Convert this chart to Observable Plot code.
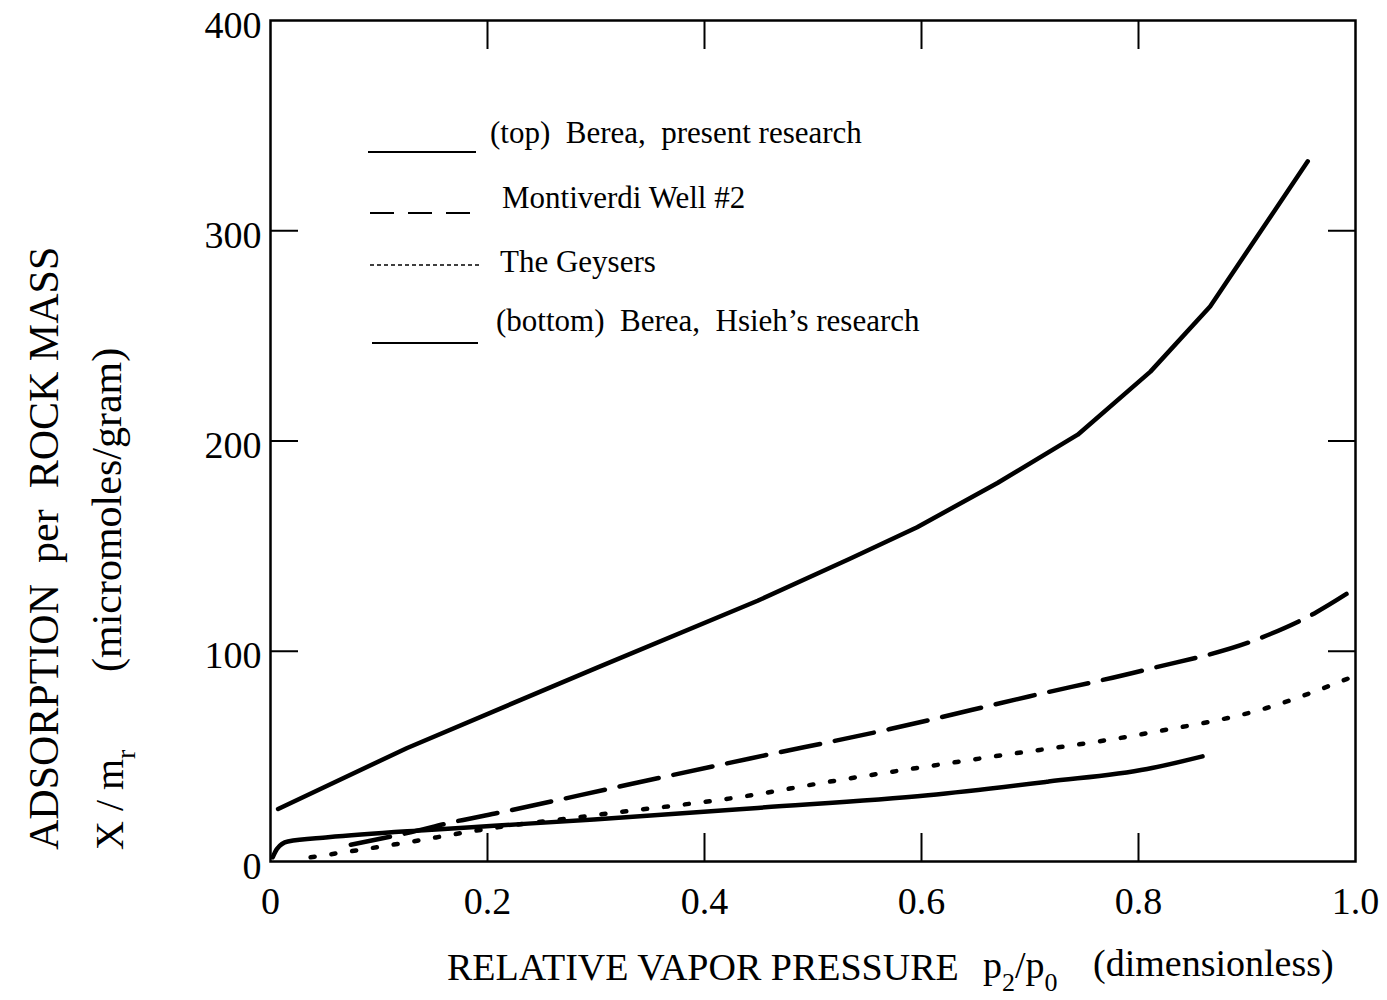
<!DOCTYPE html>
<html>
<head>
<meta charset="utf-8">
<script src="https://cdn.jsdelivr.net/npm/d3@7"></script>
<script src="https://cdn.jsdelivr.net/npm/@observablehq/plot@0.6"></script>
<style>
  html, body { margin: 0; padding: 0; background: #fff; }
  svg { display: block; }
</style>
</head>
<body>
<div id="chart"></div>
<script>
// Water vapour adsorption isotherms: adsorption per rock mass vs relative vapour pressure.

// Berea sandstone, present research (top curve)
const bereaPresentX = [0.007, 0.126, 0.300, 0.449, 0.534, 0.596, 0.670, 0.744, 0.811, 0.866, 0.956];
const bereaPresentY = [25, 54, 92, 124, 144, 159, 180, 203, 233, 264, 333];

// Montiverdi Well #2
const montiverdiX = [0.074, 0.130, 0.166, 0.218, 0.329, 0.442, 0.571, 0.699, 0.805, 0.911, 0.962, 0.994];
const montiverdiY = [8, 14, 18.5, 24, 36.5, 49, 63, 78.5, 91, 106, 118, 128];

// The Geysers
const geysersX = [0.037, 0.113, 0.206, 0.298, 0.449, 0.504, 0.654, 0.808, 0.918, 0.993];
const geysersY = [2, 8, 16, 22, 32, 37, 49, 61, 73, 87];

// Berea sandstone, Hsieh's research (bottom curve)
const bereaHsiehX = [0.002, 0.006, 0.016, 0.053, 0.145, 0.206, 0.298, 0.449, 0.606, 0.717, 0.808, 0.859];
const bereaHsiehY = [2, 6, 9.5, 11.5, 15, 17, 20, 25.5, 31.5, 38, 44, 50];

// Axis ticks and labels
const xTickMarks = [0.2, 0.4, 0.6, 0.8];
const xTickLabels = [0, 0.2, 0.4, 0.6, 0.8, 1.0];
const yTickMarks = [100, 200, 300];
const yTickLabels = [0, 100, 200, 300, 400];

// Legend entries, in drawing order
const seriesNames = [
  "(top)  Berea,  present research",
  "Montiverdi Well #2",
  "The Geysers",
  "(bottom)  Berea,  Hsieh\u2019s research"
];

const toRows = (xs, ys) => xs.map((x, i) => ({x, y: ys[i]}));
const bereaPresent = toRows(bereaPresentX, bereaPresentY);
const montiverdi = toRows(montiverdiX, montiverdiY);
const geysers = toRows(geysersX, geysersY);
const bereaHsieh = toRows(bereaHsiehX, bereaHsiehY);

const serif = "'Liberation Serif', 'Times New Roman', Times, serif";

const chart = Plot.plot({
  width: 1387,
  height: 1000,
  marginLeft: 270,
  marginRight: 32,
  marginTop: 20,
  marginBottom: 139,
  style: {fontFamily: serif, fontSize: "38px", color: "black", background: "white", overflow: "visible"},
  x: {domain: [0, 1]},
  y: {domain: [0, 400]},
  marks: [
    // inward tick marks on all four sides
    Plot.axisX({anchor: "bottom", ticks: xTickMarks, tickSize: -28, tickFormat: () => "", label: null, strokeWidth: 2}),
    Plot.axisX({anchor: "top", ticks: xTickMarks, tickSize: -28, tickFormat: () => "", label: null, strokeWidth: 2}),
    Plot.axisY({anchor: "left", ticks: yTickMarks, tickSize: -28, tickFormat: () => "", label: null, strokeWidth: 2}),
    Plot.axisY({anchor: "right", ticks: yTickMarks, tickSize: -28, tickFormat: () => "", label: null, strokeWidth: 2}),
    // tick labels
    Plot.axisX({anchor: "bottom", ticks: xTickLabels, tickSize: 0, tickPadding: 26, label: null,
      tickFormat: d => d === 0 ? "0" : d.toFixed(1), fontSize: 38}),
    Plot.axisY({anchor: "left", ticks: yTickLabels, tickSize: 0, tickPadding: 9, label: null, dy: 5,
      tickFormat: d => String(d), fontSize: 38}),
    Plot.frame({stroke: "black", strokeWidth: 2.5}),
    // curves
    Plot.line(bereaPresent, {x: "x", y: "y", stroke: "black", strokeWidth: 4.5, curve: "linear", strokeLinecap: "round"}),
    Plot.line(montiverdi, {x: "x", y: "y", stroke: "black", strokeWidth: 4.5, curve: "monotone-x",
      strokeDasharray: "40,15"}),
    Plot.line(geysers, {x: "x", y: "y", stroke: "black", strokeWidth: 4.5, curve: "monotone-x",
      strokeDasharray: "4,17", strokeLinecap: "round"}),
    Plot.line(bereaHsieh, {x: "x", y: "y", stroke: "black", strokeWidth: 4.5, curve: "monotone-x", strokeLinecap: "round"})
  ]
});

document.getElementById("chart").appendChild(chart);

const svg = d3.select(chart);

// Legend block in the upper-left of the frame
const legendRows = [
  {lineY: 152, textX: 490, textY: 143, x1: 368, x2: 476, dash: null, w: 2},
  {lineY: 213, textX: 502, textY: 208, x1: 370, x2: 477, dash: "24,14", w: 2},
  {lineY: 265, textX: 500, textY: 272, x1: 370, x2: 482, dash: "4,3", w: 1.6},
  {lineY: 343, textX: 496, textY: 331, x1: 372, x2: 478, dash: null, w: 2}
];
const legend = svg.append("g")
  .attr("font-family", serif)
  .attr("font-size", 31)
  .attr("text-anchor", "start")
  .attr("fill", "black");
legendRows.forEach((r, i) => {
  legend.append("line")
    .attr("x1", r.x1).attr("x2", r.x2)
    .attr("y1", r.lineY).attr("y2", r.lineY)
    .attr("stroke", "black").attr("stroke-width", r.w)
    .attr("stroke-dasharray", r.dash);
  legend.append("text")
    .attr("x", r.textX).attr("y", r.textY)
    .style("white-space", "pre")
    .text(seriesNames[i]);
});

// x-axis title with subscripts
const xTitle = svg.append("g")
  .attr("font-family", serif)
  .attr("font-size", 38)
  .attr("text-anchor", "start")
  .attr("fill", "black");
xTitle.append("text").attr("x", 447).attr("y", 980).text("RELATIVE VAPOR PRESSURE");
const pp = xTitle.append("text").attr("x", 983).attr("y", 978);
pp.append("tspan").text("p");
pp.append("tspan").attr("dy", 13).attr("font-size", 26).text("2");
pp.append("tspan").attr("dy", -13).text("/p");
pp.append("tspan").attr("dy", 13).attr("font-size", 26).text("0");
xTitle.append("text").attr("x", 1093).attr("y", 976).text("(dimensionless)");

// y-axis title, two rotated lines
const yTitle = svg.append("g")
  .attr("font-family", serif)
  .attr("text-anchor", "start")
  .attr("fill", "black");
yTitle.append("text")
  .attr("transform", "translate(58,850) rotate(-90)")
  .attr("font-size", 42)
  .style("white-space", "pre")
  .text("ADSORPTION  per  ROCK MASS");
const xm = yTitle.append("text")
  .attr("transform", "translate(123,850) rotate(-90)")
  .attr("font-size", 40)
  .style("white-space", "pre");
xm.append("tspan").text("X / m");
xm.append("tspan").attr("dy", 12).attr("font-size", 28).text("r");
yTitle.append("text")
  .attr("transform", "translate(121,672) rotate(-90)")
  .attr("font-size", 42)
  .text("(micromoles/gram)");
</script>
</body>
</html>
